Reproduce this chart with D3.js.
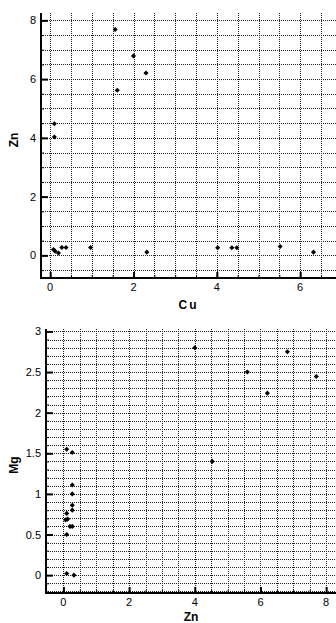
<!DOCTYPE html>
<html>
<head>
<meta charset="utf-8">
<script src="https://cdn.jsdelivr.net/npm/d3@7"></script>
<style>
  html, body { margin: 0; padding: 0; background: #fff; }
  svg { display: block; }
  .tick-label { font-family: "Liberation Sans Narrow", "Liberation Sans", Arial, sans-serif; font-size: 11px; fill: #000; }
  .axis-title { font-family: "Liberation Sans", Arial, sans-serif; font-size: 12px; font-weight: bold; fill: #000; }
</style>
</head>
<body>
<svg id="chart" width="336" height="623"></svg>
<script>
// Cu vs Zn samples
const cuValues = [1.56, 2.00, 2.30, 1.61, 0.10, 0.10, 0.08, 0.12, 0.20, 0.28, 0.38, 0.97, 2.32, 4.02, 4.36, 4.48, 5.52, 6.32];
const znValuesTop = [7.69, 6.79, 6.21, 5.62, 4.48, 4.03, 0.20, 0.14, 0.08, 0.27, 0.27, 0.27, 0.11, 0.26, 0.26, 0.26, 0.30, 0.11];

// Zn vs Mg samples
const znValuesBottom = [4.00, 5.60, 6.21, 6.82, 7.70, 4.53, 0.10, 0.27, 0.27, 0.27, 0.27, 0.27, 0.10, 0.07, 0.13, 0.20, 0.27, 0.10, 0.10, 0.32];
const mgValues = [2.80, 2.50, 2.24, 2.75, 2.445, 1.40, 1.55, 1.51, 1.11, 1.00, 0.86, 0.80, 0.76, 0.68, 0.69, 0.60, 0.60, 0.50, 0.02, 0.00];

const topXTicks = [0, 2, 4, 6];
const topYTicks = [0, 2, 4, 6, 8];
const bottomXTicks = [0, 2, 4, 6, 8];
const bottomYTicks = [0, 0.5, 1, 1.5, 2, 2.5, 3];

const svg = d3.select("#chart");

function range(a, b, step) {
  const out = [];
  const n = Math.round((b - a) / step);
  for (let i = 0; i <= n; i++) out.push(+(a + i * step).toFixed(6));
  return out;
}

function drawPanel(cfg) {
  const g = svg.append("g");
  const x = d3.scaleLinear().domain(cfg.xDomain).range([cfg.left, cfg.right]);
  const y = d3.scaleLinear().domain(cfg.yDomain).range([cfg.bottom, cfg.top]);

  // dotted grid
  const grid = g.append("g").attr("stroke", "#222").attr("stroke-width", 1)
    .attr("stroke-dasharray", "1,1").attr("shape-rendering", "crispEdges");
  grid.selectAll("line.v").data(cfg.xGrid).join("line")
    .attr("x1", d => Math.round(x(d)) + 0.5).attr("x2", d => Math.round(x(d)) + 0.5)
    .attr("y1", cfg.top).attr("y2", cfg.bottom);
  grid.selectAll("line.h").data(cfg.yGrid).join("line")
    .attr("x1", cfg.left).attr("x2", cfg.right)
    .attr("y1", d => Math.round(y(d)) + 0.5).attr("y2", d => Math.round(y(d)) + 0.5);

  // axes with inward ticks
  const xAxis = d3.axisTop(x).tickValues(cfg.xTicks).tickSize(6).tickFormat("");
  const xMinor = d3.axisTop(x).tickValues(cfg.xGrid).tickSize(3).tickFormat("");
  const yAxis = d3.axisRight(y).tickValues(cfg.yTicks).tickSize(7).tickFormat("");
  const yMinor = d3.axisRight(y).tickValues(cfg.yGrid).tickSize(3).tickFormat("");

  [[xMinor, 1], [xAxis, 2]].forEach(([ax, w]) => {
    const a = g.append("g").attr("transform", `translate(0,${cfg.bottom})`).call(ax);
    a.select(".domain").remove();
    a.selectAll(".tick line").attr("stroke", "#000").attr("stroke-width", w);
  });
  [[yMinor, 1], [yAxis, 2]].forEach(([ax, w]) => {
    const a = g.append("g").attr("transform", `translate(${cfg.left},0)`).call(ax);
    a.select(".domain").remove();
    a.selectAll(".tick line").attr("stroke", "#000").attr("stroke-width", w);
  });

  g.append("line").attr("x1", cfg.left).attr("x2", cfg.right)
    .attr("y1", cfg.bottom).attr("y2", cfg.bottom)
    .attr("stroke", "#000").attr("stroke-width", 2);
  g.append("line").attr("x1", cfg.left).attr("x2", cfg.left)
    .attr("y1", cfg.top).attr("y2", cfg.bottom + 1)
    .attr("stroke", "#000").attr("stroke-width", 2);

  // tick labels
  g.selectAll("text.xl").data(cfg.xTicks).join("text")
    .attr("class", "tick-label").attr("text-anchor", "middle")
    .attr("x", d => x(d)).attr("y", cfg.bottom + 13)
    .text(d => d);
  g.selectAll("text.yl").data(cfg.yTicks).join("text")
    .attr("class", "tick-label").attr("text-anchor", "end")
    .attr("x", cfg.left - 5).attr("y", d => y(d) + 4)
    .text(d => d);

  // axis titles
  g.append("text").attr("class", "axis-title").attr("text-anchor", "middle")
    .attr("x", (cfg.left + cfg.right) / 2).attr("y", cfg.xTitleY)
    .attr("letter-spacing", cfg.xTitleSpacing)
    .text(cfg.xTitle);
  g.append("text").attr("class", "axis-title").attr("text-anchor", "middle")
    .attr("transform", `translate(18,${cfg.yTitleY}) rotate(-90)`)
    .text(cfg.yTitle);

  // points
  const pts = cfg.xs.map((v, i) => [v, cfg.ys[i]]);
  g.selectAll("path.pt").data(pts).join("path")
    .attr("d", d3.symbol(d3.symbolSquare, 13))
    .attr("transform", d => `translate(${x(d[0])},${y(d[1])}) rotate(45)`)
    .attr("fill", "#000");
}

drawPanel({
  left: 41, right: 336, top: 13, bottom: 278,
  xDomain: [-0.22, 6.86], yDomain: [-0.77, 8.25],
  xGrid: range(0, 6.5, 0.5), yGrid: range(-0.5, 8, 0.5),
  xTicks: topXTicks, yTicks: topYTicks,
  xTitle: "Cu", xTitleY: 309, xTitleSpacing: "2px",
  yTitle: "Zn", yTitleY: 140,
  xs: cuValues, ys: znValuesTop
});

drawPanel({
  left: 46, right: 336, top: 329, bottom: 593,
  xDomain: [-0.53, 8.3], yDomain: [-0.22, 3.03],
  xGrid: range(0, 8, 0.5), yGrid: range(-0.2, 3, 0.1),
  xTicks: bottomXTicks, yTicks: bottomYTicks,
  xTitle: "Zn", xTitleY: 621, xTitleSpacing: "0px",
  yTitle: "Mg", yTitleY: 465,
  xs: znValuesBottom, ys: mgValues
});
</script>
</body>
</html>
